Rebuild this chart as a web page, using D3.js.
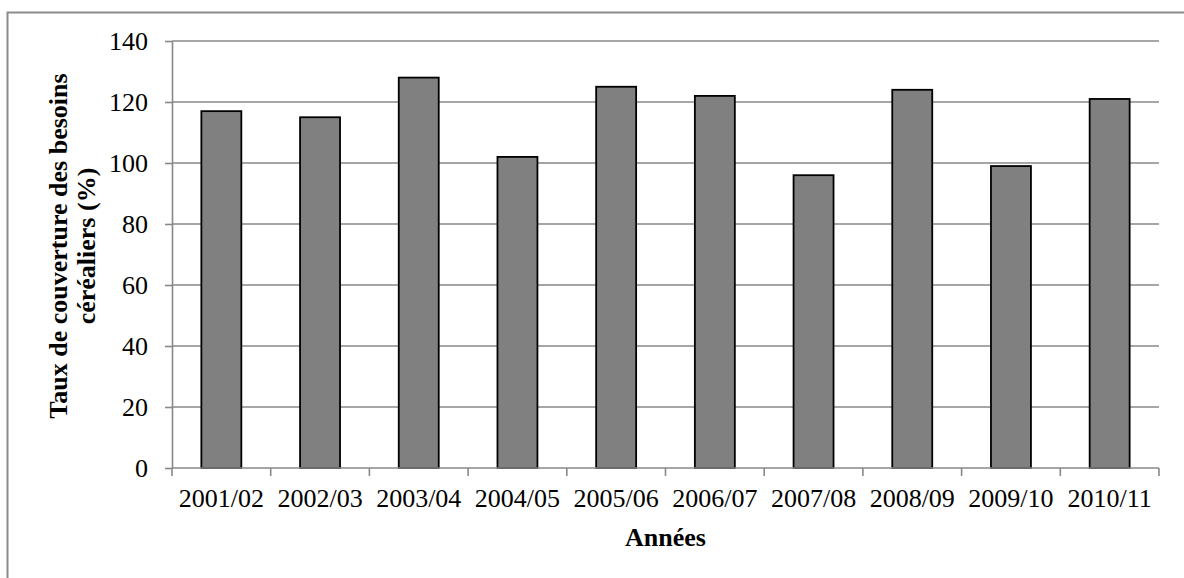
<!DOCTYPE html>
<html>
<head>
<meta charset="utf-8">
<script src="https://cdn.jsdelivr.net/npm/d3@7"></script>
<style>
  html, body { margin: 0; padding: 0; background: #fff; }
  svg { display: block; }
  text { font-family: "Liberation Serif", "Times New Roman", serif; fill: #000; }
</style>
</head>
<body>
<svg id="chart" width="1184" height="578"></svg>
<script>
const categories = ["2001/02","2002/03","2003/04","2004/05","2005/06","2006/07","2007/08","2008/09","2009/10","2010/11"];
const values = [117, 115, 128, 102, 125, 122, 96, 124, 99, 121];
const yTicks = [0, 20, 40, 60, 80, 100, 120, 140];
const xTitle = "Années";
const yTitleLines = ["Taux de couverture des besoins", "céréaliers (%)"];

(function () {
const svg = d3.select("#chart");
const W = 1184, H = 578;
const mLeft = 172, mRight = 1159, mTop = 41, mBottom = 468;

// outer frame
svg.append("rect")
  .attr("x", 7.5).attr("y", 12.5)
  .attr("width", W).attr("height", H)
  .attr("fill", "none").attr("stroke", "#8c8c8c").attr("stroke-width", 2);

const x = d3.scaleBand().domain(categories).range([mLeft, mRight]).padding(0);
const y = d3.scaleLinear().domain([0, 140]).range([mBottom, mTop]);

// gridlines
svg.append("g").selectAll("line").data(yTicks.filter(d => d > 0)).join("line")
  .attr("x1", mLeft).attr("x2", mRight)
  .attr("y1", d => y(d)).attr("y2", d => y(d))
  .attr("stroke", "#888").attr("stroke-width", 1.6);

// bars
const barFrac = 0.405;
svg.append("g").selectAll("rect").data(values).join("rect")
  .attr("x", (d, i) => x(categories[i]) + x.bandwidth() * (1 - barFrac) / 2)
  .attr("width", x.bandwidth() * barFrac)
  .attr("y", d => y(d))
  .attr("height", d => y(0) - y(d))
  .attr("fill", "#808080").attr("stroke", "#000").attr("stroke-width", 1.8);

// y axis
const yAxis = svg.append("g").attr("transform", `translate(${mLeft},0)`)
  .call(d3.axisLeft(y).tickValues(yTicks).tickSizeInner(7).tickSizeOuter(0).tickPadding(17));
yAxis.select(".domain").attr("stroke", "#888").attr("stroke-width", 1.6);
yAxis.selectAll(".tick line").attr("stroke", "#888").attr("stroke-width", 1.6);
yAxis.selectAll(".tick text").attr("font-size", 26).attr("font-family", "Liberation Serif").attr("dy", "0.33em").attr("fill", "#000");

// x axis
const xAxis = svg.append("g").attr("transform", `translate(0,${mBottom})`)
  .call(d3.axisBottom(x).tickSize(0).tickPadding(0));
xAxis.select(".domain").remove();
xAxis.selectAll(".tick text").attr("font-size", 26).attr("font-family", "Liberation Serif")
  .attr("dy", 0).attr("y", 39).attr("fill", "#000");
const bounds = categories.map(c => x(c)).concat([x(categories[categories.length - 1]) + x.bandwidth()]);
svg.append("line").attr("x1", mLeft).attr("x2", mRight).attr("y1", mBottom).attr("y2", mBottom)
  .attr("stroke", "#888").attr("stroke-width", 1.6);
svg.append("g").selectAll("line").data(bounds).join("line")
  .attr("x1", d => d).attr("x2", d => d).attr("y1", mBottom).attr("y2", mBottom + 8)
  .attr("stroke", "#888").attr("stroke-width", 1.6);

// titles
svg.append("text").attr("x", (mLeft + mRight) / 2).attr("y", 546)
  .attr("text-anchor", "middle").attr("font-size", 26).attr("font-weight", "bold")
  .text(xTitle);

const yt = svg.append("text").attr("transform", "translate(0,246) rotate(-90)")
  .attr("text-anchor", "middle").attr("font-size", 26).attr("font-weight", "bold");
yt.append("tspan").attr("x", 0).attr("y", 67).text(yTitleLines[0]);
yt.append("tspan").attr("x", 0).attr("y", 95).text(yTitleLines[1]);
})();
</script>
</body>
</html>
